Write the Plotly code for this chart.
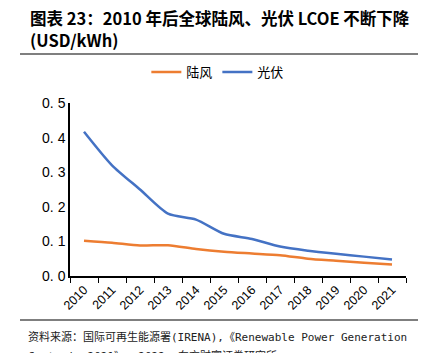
import plotly.graph_objects as go

years = ["2010", "2011", "2012", "2013", "2014", "2015", "2016", "2017", "2018", "2019", "2020", "2021"]
wind = [0.102, 0.096, 0.088, 0.089, 0.078, 0.070, 0.065, 0.060, 0.050, 0.044, 0.038, 0.033]
solar = [0.417, 0.320, 0.250, 0.180, 0.163, 0.122, 0.107, 0.085, 0.073, 0.064, 0.056, 0.048]
yticks = [0.0, 0.1, 0.2, 0.3, 0.4, 0.5]
ytext = ["0. 0", "0. 1", "0. 2", "0. 3", "0. 4", "0. 5"]

title1 = "图表 23：2010 年后全球陆风、光伏 LCOE 不断下降"
title2 = "(USD/kWh)"
src1 = "资料来源：国际可再生能源署(IRENA),《Renewable Power Generation"
src2 = "Costs in 2021》, 2022, 东方财富证券研究所"

fig = go.Figure()
fig.add_trace(go.Scatter(x=years, y=wind, name="陆风", mode="lines",
                         line=dict(color="#ED7D31", width=2.5, shape="spline", smoothing=0.7)))
fig.add_trace(go.Scatter(x=years, y=solar, name="光伏", mode="lines",
                         line=dict(color="#4472C4", width=2.5, shape="spline", smoothing=0.7)))

W, H = 432, 353
L, R, T, B = 70, 26, 103, 77
ph = H - T - B
pw = W - L - R

def py(p):
    return (H - B - p) / ph

def px(p):
    return (p - L) / pw

mono = "DejaVu Sans Mono, Noto Sans CJK SC"
fig.update_layout(
    width=W, height=H,
    margin=dict(l=L, r=R, t=T, b=B),
    paper_bgcolor="white", plot_bgcolor="white",
    font=dict(family="Liberation Sans, Noto Sans CJK SC", color="#000000"),
    showlegend=True,
    legend=dict(orientation="h", x=0.44, xanchor="center", y=py(72), yanchor="middle",
                font=dict(size=13, family="Noto Sans CJK SC"), bgcolor="rgba(0,0,0,0)"),
    xaxis=dict(showline=True, linecolor="#000000", linewidth=1.5, ticks="outside",
               tickson="boundaries", ticklen=5, tickcolor="#000000", tickangle=-45,
               range=[-0.5, len(years) - 0.5],
               tickfont=dict(size=12.5), showgrid=False, zeroline=False),
    yaxis=dict(range=[0, 0.5], tickvals=yticks, ticktext=ytext, showline=True,
               linecolor="#000000", linewidth=1.5, ticks="", showgrid=False,
               zeroline=False, tickfont=dict(size=14)),
    annotations=[
        dict(text="<b>" + title1 + "</b>", xref="paper", yref="paper", x=px(28), y=py(18),
             xanchor="left", yanchor="middle", showarrow=False,
             font=dict(size=16.5, family="Noto Sans CJK SC")),
        dict(text="<b>" + title2 + "</b>", xref="paper", yref="paper", x=px(28), y=py(40),
             xanchor="left", yanchor="middle", showarrow=False,
             font=dict(size=16.5, family="Noto Sans CJK SC")),
        dict(text=src1, xref="paper", yref="paper", x=px(26), y=py(337),
             xanchor="left", yanchor="middle", showarrow=False,
             font=dict(size=11, family=mono, color="#222222")),
        dict(text=src2, xref="paper", yref="paper", x=px(26), y=py(356),
             xanchor="left", yanchor="middle", showarrow=False,
             font=dict(size=11, family=mono, color="#222222")),
    ],
    shapes=[
        dict(type="line", xref="paper", yref="paper", x0=px(20), x1=px(418), y0=py(54), y1=py(54),
             line=dict(color="#555555", width=1.5)),
        dict(type="line", xref="paper", yref="paper", x0=px(20), x1=px(418), y0=py(320), y1=py(320),
             line=dict(color="#555555", width=1.5)),
    ],
)

fig.write_html("out.html")
